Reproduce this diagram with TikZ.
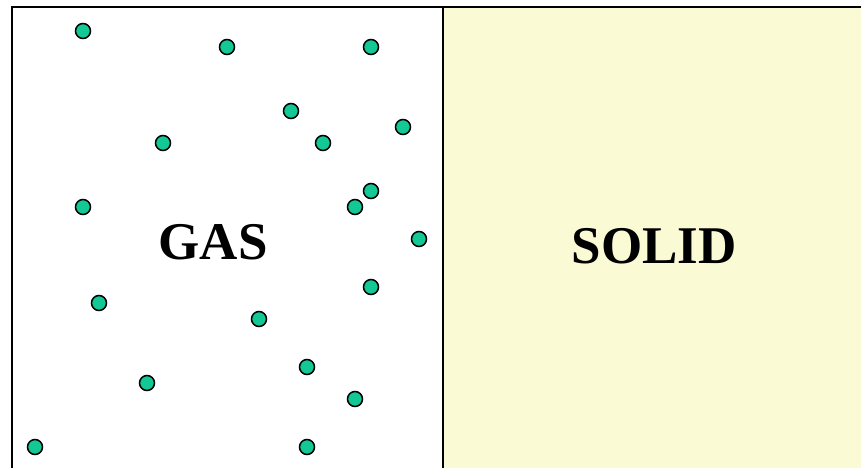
\documentclass[tikz,border=0pt]{standalone}
\usepackage{fontspec}
\setmainfont{Liberation Serif}
\definecolor{molecule}{RGB}{20,200,150}
\definecolor{solidfill}{RGB}{250,250,212}
\begin{document}
\begin{tikzpicture}[x=1pt,y=-1pt,
  particle/.style={circle,draw=black,fill=molecule,line width=1.5pt,inner sep=0pt,minimum size=15pt},
  phase/.style={font=\fontsize{53}{53}\selectfont\bfseries}]
\useasboundingbox (0,0) rectangle (861,468);
% solid region
\fill[solidfill] (443,7) rectangle (861,468);
% container walls
\draw[line width=1.5pt] (12,468) -- (12,7) -- (861,7);
\draw[line width=1.5pt] (443,7) -- (443,468);
% gas molecules
\foreach \i/\px/\py in {1/83/31,2/227/47,3/371/47,4/291/111,5/403/127,6/163/143,7/323/143,8/371/191,9/83/207,10/355/207,11/419/239,12/99/303,13/371/287,14/259/319,15/307/367,16/147/383,17/355/399,18/35/447,19/307/447}
  \node[particle] (m\i) at (\px,\py) {};
% labels
\node[phase] (gas) at (213,242) {GAS};
\node[phase] (solid) at (654,246) {SOLID};
\end{tikzpicture}
\end{document}
